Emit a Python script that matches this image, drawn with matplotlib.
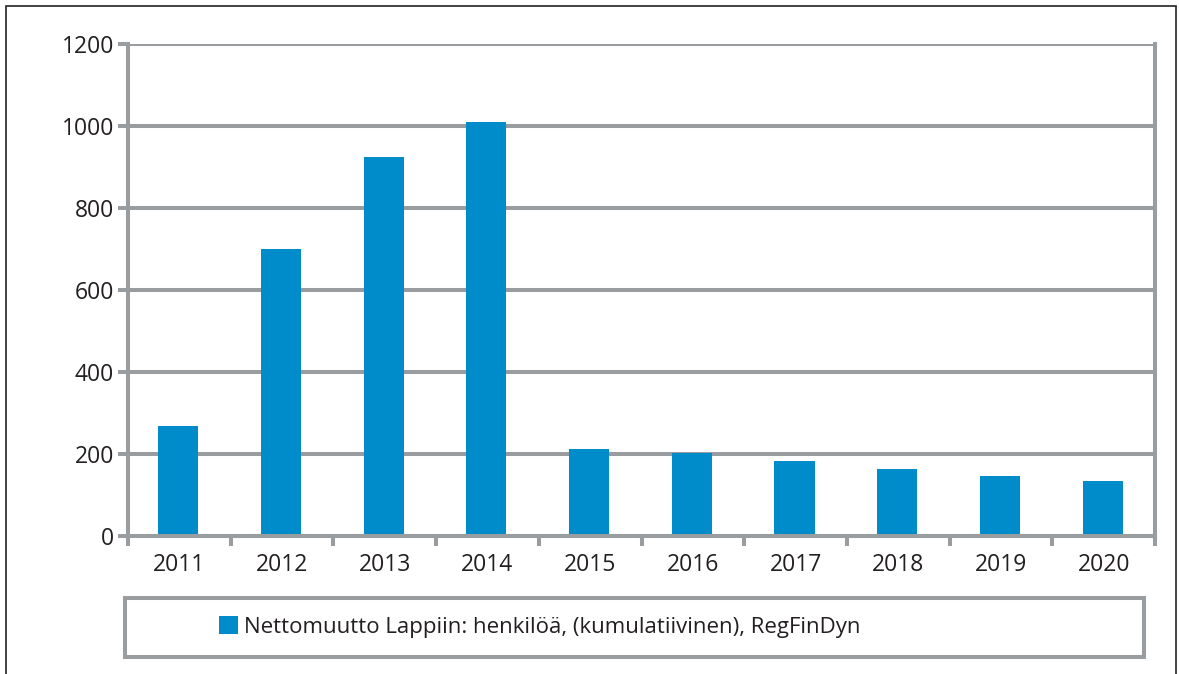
import matplotlib
matplotlib.use('Agg')
import matplotlib.pyplot as plt
from matplotlib.patches import Rectangle
import numpy as np

# data
years = ['2011', '2012', '2013', '2014', '2015', '2016', '2017', '2018', '2019', '2020']
values = [268, 700, 924, 1010, 212, 202, 183, 163, 146, 134]
series_label = 'Nettomuutto Lappiin: henkilöä, (kumulatiivinen), RegFinDyn'
yticks = [0, 200, 400, 600, 800, 1000, 1200]

W, H = 1179, 674
grey = '#9a9d9f'
bar_col = '#008bca'
txt_col = '#231f20'
plt.rcParams['font.family'] = ['Open Sans', 'DejaVu Sans']

fig = plt.figure(figsize=(W / 100, H / 100), dpi=100)

# outer frame
fig.patches.append(Rectangle((6 / W, -0.05), (1176 - 6) / W, (H - 6) / H + 0.05,
                             transform=fig.transFigure, fill=False,
                             edgecolor='#222222', linewidth=1.2))

ax = fig.add_axes([128 / W, (H - 536) / H, (1155 - 128) / W, (536 - 44) / H])
x = np.arange(len(years))
bars = ax.bar(x - 0.01, values, width=0.39, color=bar_col, label=series_label, zorder=3)

ax.set_xlim(-0.5, len(years) - 0.5)
ax.set_ylim(0, 1200)
ax.set_yticks(yticks)
ax.set_xticks(x)
ax.set_xticklabels(years)
ax.set_xticks(np.arange(len(years) + 1) - 0.5, minor=True)

lw = 2.9
ax.yaxis.grid(True, color=grey, linewidth=lw, zorder=1)
ax.set_axisbelow(True)
for s in ['left', 'bottom', 'right']:
    ax.spines[s].set_color(grey)
    ax.spines[s].set_linewidth(lw)
    ax.spines[s].set_zorder(4)
ax.spines['top'].set_visible(False)

ax.tick_params(axis='y', length=7, width=lw, color=grey, labelsize=16.5,
               labelcolor=txt_col, pad=3)
ax.tick_params(axis='x', which='major', length=0, labelsize=16.5,
               labelcolor=txt_col, pad=12)
ax.tick_params(axis='x', which='minor', length=7, width=lw, color=grey)

# legend box
fig.patches.append(Rectangle((125 / W, (H - 657) / H), (1144 - 125) / W, (657 - 598) / H,
                             transform=fig.transFigure, fill=False,
                             edgecolor=grey, linewidth=lw))
fig.legend(handles=[bars], labels=[series_label], loc='center left',
           bbox_to_anchor=(210 / W, (H - 627) / H), frameon=False,
           fontsize=16, labelcolor=txt_col, handlelength=0.85, handleheight=0.85,
           handletextpad=0.3, borderaxespad=0)

fig.savefig('out.png', dpi=100)
